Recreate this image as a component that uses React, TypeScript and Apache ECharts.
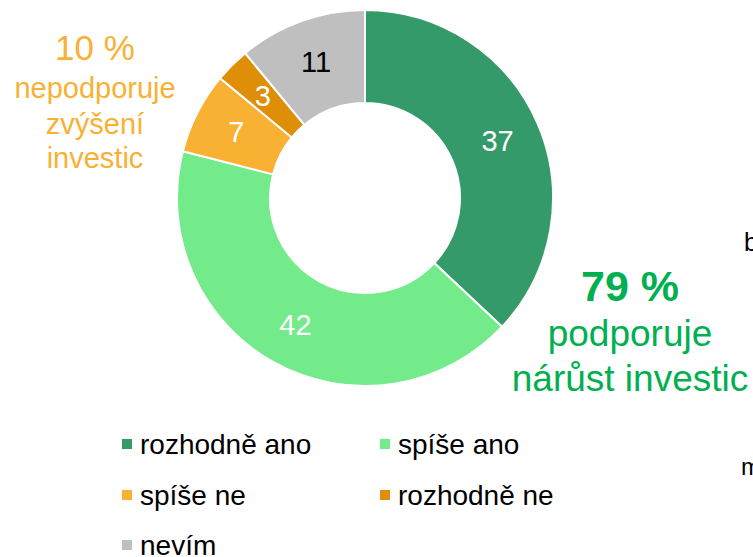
import React, { useEffect, useRef } from "react";
import * as echarts from "echarts";

const categories = ["rozhodně ano", "spíše ano", "spíše ne", "rozhodně ne", "nevím"];
const values = [37, 42, 7, 3, 11];
const colors = ["#359A6A", "#74EB8A", "#F8B133", "#DE8E07", "#BFBFBF"];
const labelColors = ["#FFFFFF", "#FFFFFF", "#FFFFFF", "#FFFFFF", "#000000"];
const noteNo = ["10 %", "nepodporuje", "zvýšení", "investic"];
const noteYes = ["79 %", "podporuje", "nárůst investic"];

const FONT = "Liberation Sans, Arial, sans-serif";

export default function App() {
  const ref = useRef<HTMLDivElement>(null);
  useEffect(() => {
    const chart = echarts.init(ref.current!, null, { renderer: "svg" });
    const legendPos = [
      [120, 430],
      [378, 430],
      [120, 481],
      [378, 481],
      [120, 531],
    ];
    chart.setOption({
      animation: false,
      legend: categories.map((c, i) => ({
        data: [c],
        left: legendPos[i][0],
        top: legendPos[i][1],
        padding: 0,
        icon: "rect",
        itemWidth: 12,
        itemHeight: 12,
        selectedMode: false,
        textStyle: { fontFamily: FONT, fontSize: 28, color: "#000", lineHeight: 26, padding: [0, 0, 0, 2] },
      })),
      series: [
        {
          type: "pie",
          center: [365, 198],
          radius: [95, 188],
          startAngle: 90,
          clockwise: true,
          data: categories.map((c, i) => ({
            name: c,
            value: values[i],
            itemStyle: { color: colors[i] },
            label: { color: labelColors[i] },
          })),
          itemStyle: { borderColor: "#fff", borderWidth: 2 },
          label: {
            show: true,
            position: "inside",
            formatter: "{c}",
            fontFamily: FONT,
            fontSize: 29,
          },
          labelLine: { show: false },
          emphasis: { disabled: true },
        },
      ],
      graphic: [
        ...noteNo.map((t, i) => ({
          type: "text",
          x: 95,
          y: [47, 88, 124, 158][i],
          style: {
            text: t,
            fontFamily: FONT,
            fontSize: i === 0 ? 35 : 29,
            fill: "#F8B133",
            align: "center",
            verticalAlign: "middle",
          },
        })),
        ...noteYes.map((t, i) => ({
          type: "text",
          x: 630,
          y: [286, 333, 378][i],
          style: {
            text: t,
            fontFamily: FONT,
            fontSize: i === 0 ? 43 : 37,
            fontWeight: i === 0 ? "bold" : "normal",
            fill: "#00B050",
            align: "center",
            verticalAlign: "middle",
          },
        })),
        {
          type: "text",
          x: 744,
          y: 242,
          style: { text: "b", fontFamily: FONT, fontSize: 25, fill: "#000", verticalAlign: "middle" },
        },
        {
          type: "text",
          x: 741,
          y: 466,
          style: { text: "m", fontFamily: FONT, fontSize: 24, fill: "#000", verticalAlign: "middle" },
        },
      ],
    });
    return () => chart.dispose();
  }, []);
  return <div ref={ref} style={{ width: 753, height: 557, position: "absolute", left: 0, top: 0 }} />;
}
